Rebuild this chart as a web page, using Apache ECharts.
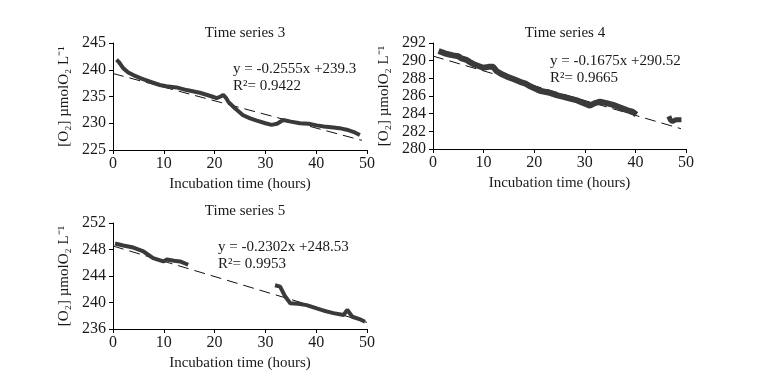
<!DOCTYPE html>
<html>
<head>
<meta charset="utf-8">
<script src="https://cdn.jsdelivr.net/npm/echarts@6/dist/echarts.min.js"></script>
<style>
  html, body { margin: 0; padding: 0; background: #fff; }
  #chart { width: 771px; height: 375px; }
</style>
</head>
<body>
<div id="chart"></div>
<script>
// readings: [hours, O2]
const ts3 = [[0.7,241.9],[1.2,241.4],[2,240.3],[3,239.5],[4,239.0],[5.5,238.4],[7.3,237.8],[9.2,237.15],[10.5,236.9],
  [12.5,236.7],[14.5,236.2],[17.1,235.7],[19.5,235.0],[20.4,234.7],[21.2,235.0],[21.7,235.3],[22.2,234.8],[22.7,234.0],
  [24,232.8],[25.6,231.5],[27,230.9],[28.3,230.5],[30,230.0],[31.2,229.7],[32.3,229.9],[33.5,230.6],[35,230.3],
  [36.8,230.0],[38.5,229.9],[40.1,229.6],[41.5,229.4],[43.4,229.2],[45,229.0],[46,228.8],[47.3,228.4],[48.6,227.8]];
const ts4a = [[1.1,291.1],[2.5,290.8],[3.2,290.7],[4,290.6],[5,290.5],[5.5,290.3],[6.6,290.1],[7.4,289.8],[8,289.6],[9,289.4],
  [9.9,289.2],[11,289.3],[11.9,289.3],[12.6,288.8],[13.5,288.5],[14.6,288.2],[16,287.9],[17.2,287.6],[18.3,287.4],[19.2,287.1],
  [21.1,286.6],[22.8,286.4],[24.4,286.1],[25.8,285.9],[27.1,285.7],[28.5,285.5],[29.7,285.2],[31,284.9],[32,285.2],[33,285.35],
  [34.3,285.2],[35.6,285.0],[37,284.7],[38.3,284.4],[39.5,284.2],[40.2,283.9]];
const ts4b = [[46.6,283.7],[46.9,283.3],[47.3,283.1],[48,283.3],[49.1,283.3]];
const ts5a = [[0.4,248.9],[2,248.6],[4,248.3],[6,247.7],[7.9,246.7],[9.9,246.2],[10.6,246.5],[12,246.3],[13.2,246.2],[14.8,245.7]];
const ts5b = [[31.9,242.6],[32.9,242.4],[33.9,240.9],[34.9,239.9],[36.5,239.8],[38.1,239.6],[40.1,239.1],[41.8,238.7],
  [43.4,238.4],[45.4,238.1],[46.1,238.9],[47.1,237.85],[48.5,237.5],[49.6,237.1]];

// fitted lines (end points as drawn)
const fit3 = [[0,239.3],[49,226.8]];
const fit4 = [[0,290.52],[49,282.3]];
const fit5 = [[0,248.53],[50,237.0]];

const titles = ['Time series 3', 'Time series 4', 'Time series 5'];
const equations = [['y = -0.2555x +239.3', 'R\u00b2= 0.9422'], ['y = -0.1675x +290.52', 'R\u00b2= 0.9665'], ['y = -0.2302x +248.53', 'R\u00b2= 0.9953']];
const yRanges = [[225, 245, 5], [280, 292, 2], [236, 252, 4]];

const font = 'Liberation Serif, Times New Roman, serif';
const grids = [
  { left: 113, top: 43, width: 254, height: 107 },
  { left: 433, top: 43, width: 253, height: 106 },
  { left: 113, top: 223, width: 254, height: 106 }
];

const axisLine = { lineStyle: { color: '#000', width: 1 } };
const xAxis = grids.map((g, i) => ({
  type: 'value', gridIndex: i, min: 0, max: 50, interval: 10,
  axisLine: { show: true, onZero: false, ...axisLine },
  axisTick: { show: true, length: 4, lineStyle: { color: '#000' } },
  axisLabel: { color: '#1a1a1a', fontFamily: font, fontSize: 16, margin: 6 },
  splitLine: { show: false },
  name: 'Incubation time (hours)', nameLocation: 'middle', nameGap: 27,
  nameTextStyle: { color: '#1a1a1a', fontFamily: font, fontSize: 15 }
}));
const yAxis = grids.map((g, i) => ({
  type: 'value', gridIndex: i, min: yRanges[i][0], max: yRanges[i][1], interval: yRanges[i][2],
  axisLine: { show: true, ...axisLine },
  axisTick: { show: true, length: 4, lineStyle: { color: '#000' } },
  axisLabel: { color: '#1a1a1a', fontFamily: font, fontSize: 16, margin: 7 },
  splitLine: { show: false },
  name: '[O\u2082] \u00b5molO\u2082 L\u207b\u00b9', nameLocation: 'middle', nameGap: 41, nameRotate: 90,
  nameTextStyle: { color: '#1a1a1a', fontFamily: font, fontSize: 15 }
}));

const dataStyle = (w) => ({ type: 'line', symbol: 'none', lineStyle: { color: '#3a3a3a', width: w }, z: 3, animation: false });
const fitStyle = { type: 'line', symbol: 'none', lineStyle: { color: '#111', width: 1, type: [11, 6] }, z: 2, animation: false };

const series = [
  { ...fitStyle, xAxisIndex: 0, yAxisIndex: 0, data: fit3 },
  { ...dataStyle(4), xAxisIndex: 0, yAxisIndex: 0, data: ts3 },
  { ...fitStyle, xAxisIndex: 1, yAxisIndex: 1, data: fit4 },
  { ...dataStyle(6), xAxisIndex: 1, yAxisIndex: 1, data: ts4a },
  { ...dataStyle(5), xAxisIndex: 1, yAxisIndex: 1, data: ts4b },
  { ...fitStyle, xAxisIndex: 2, yAxisIndex: 2, data: fit5 },
  { ...dataStyle(4), xAxisIndex: 2, yAxisIndex: 2, data: ts5a },
  { ...dataStyle(4), xAxisIndex: 2, yAxisIndex: 2, data: ts5b }
];

const titlePos = [[240, 21], [560, 21], [240, 199]];
const eqPos = [[233, 61], [550, 53], [218, 239]];

const chart = echarts.init(document.getElementById('chart'), null, { renderer: 'canvas' });
chart.setOption({
  backgroundColor: '#fff',
  animation: false,
  title: titles.map((t, i) => ({
    text: t, left: titlePos[i][0], top: titlePos[i][1], textAlign: 'center',
    textStyle: { fontFamily: font, fontSize: 15, fontWeight: 'normal', color: '#1a1a1a' }
  })),
  grid: grids,
  xAxis: xAxis,
  yAxis: yAxis,
  series: series,
  graphic: equations.map((e, i) => ({
    type: 'text', left: eqPos[i][0], top: eqPos[i][1],
    style: { text: e.join('\n'), fontFamily: font, fontSize: 15, lineHeight: 17, fill: '#1a1a1a' }
  }))
});
</script>
</body>
</html>
